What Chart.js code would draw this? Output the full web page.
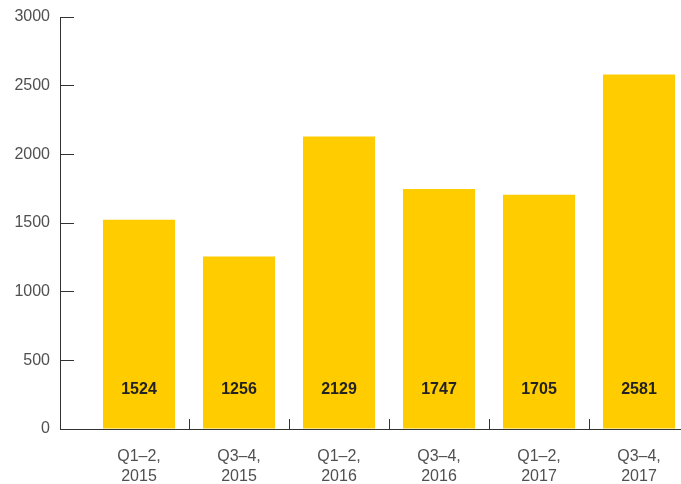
<!DOCTYPE html>
<html>
<head>
<meta charset="utf-8">
<script src="https://cdn.jsdelivr.net/npm/chart.js@4/dist/chart.umd.min.js"></script>
<style>
  html, body { margin: 0; padding: 0; background: #fff; overflow: hidden; }
  #wrap { position: relative; width: 681px; height: 484px; }
</style>
</head>
<body>
<div id="wrap"><canvas id="chart"></canvas></div>
<script>
// Half-year periods and totals
const periods = [['Q1–2,', '2015'], ['Q3–4,', '2015'], ['Q1–2,', '2016'], ['Q3–4,', '2016'], ['Q1–2,', '2017'], ['Q3–4,', '2017']];
const totals = [1524, 1256, 2129, 1747, 1705, 2581];
const yTicks = [0, 500, 1000, 1500, 2000, 2500, 3000];

const barColor = '#FFCC00';
const axisColor = '#333333';
const textColor = '#505050';
const font = 'Liberation Sans, Arial, sans-serif';

// Draw value labels inside the bars near the bottom
const barValues = {
  id: 'barValues',
  afterDatasetsDraw(chart) {
    const ctx = chart.ctx;
    const meta = chart.getDatasetMeta(0);
    const yScale = chart.scales.y;
    ctx.save();
    ctx.font = 'bold 16px ' + font;
    ctx.fillStyle = '#222';
    ctx.textAlign = 'center';
    ctx.textBaseline = 'middle';
    meta.data.forEach((bar, i) => {
      ctx.fillText(String(totals[i]), bar.x, yScale.getPixelForValue(0) - 39);
    });
    ctx.restore();
  }
};

const chart = new Chart(document.getElementById('chart'), {
  type: 'bar',
  data: {
    datasets: [{
      data: totals.map((v, i) => ({ x: i, y: v })),
      backgroundColor: barColor,
      categoryPercentage: 0.72,
      barPercentage: 1
    }]
  },
  options: {
    responsive: true,
    maintainAspectRatio: false,
    animation: false,
    layout: { padding: { top: 17, right: 0, left: 0, bottom: 0 } },
    plugins: { legend: { display: false }, tooltip: { enabled: false } },
    scales: {
      x: {
        type: 'linear',
        offset: false,
        min: -0.79,
        max: 5.42,
        afterBuildTicks: (scale) => { scale.ticks = periods.map((p, i) => ({ value: i })); },
        afterFit: (scale) => {
          scale.height = 55;
          scale.paddingLeft = 0;
          scale.paddingRight = 0;
        },
        border: { color: axisColor, width: 1 },
        grid: {
          offset: true,
          drawOnChartArea: false,
          tickLength: -10,
          color: (ctx) => ctx.index === 0 ? 'rgba(0,0,0,0)' : axisColor
        },
        ticks: {
          padding: 28,
          color: textColor,
          font: { family: font, size: 16, lineHeight: 1.25 },
          maxRotation: 0,
          autoSkip: false,
          callback: (v, i) => periods[i]
        }
      },
      y: {
        min: 0,
        max: 3000,
        afterBuildTicks: (scale) => { scale.ticks = yTicks.map(v => ({ value: v })); },
        afterFit: (scale) => {
          scale.width = 60;
          scale.paddingTop = 0;
          scale.paddingBottom = 0;
        },
        border: { color: axisColor, width: 1 },
        grid: {
          drawOnChartArea: false,
          tickLength: -14,
          color: axisColor
        },
        ticks: {
          padding: 24,
          color: textColor,
          font: { family: font, size: 16 },
          callback: (v) => String(v)
        }
      }
    }
  },
  plugins: [barValues]
});
</script>
</body>
</html>
